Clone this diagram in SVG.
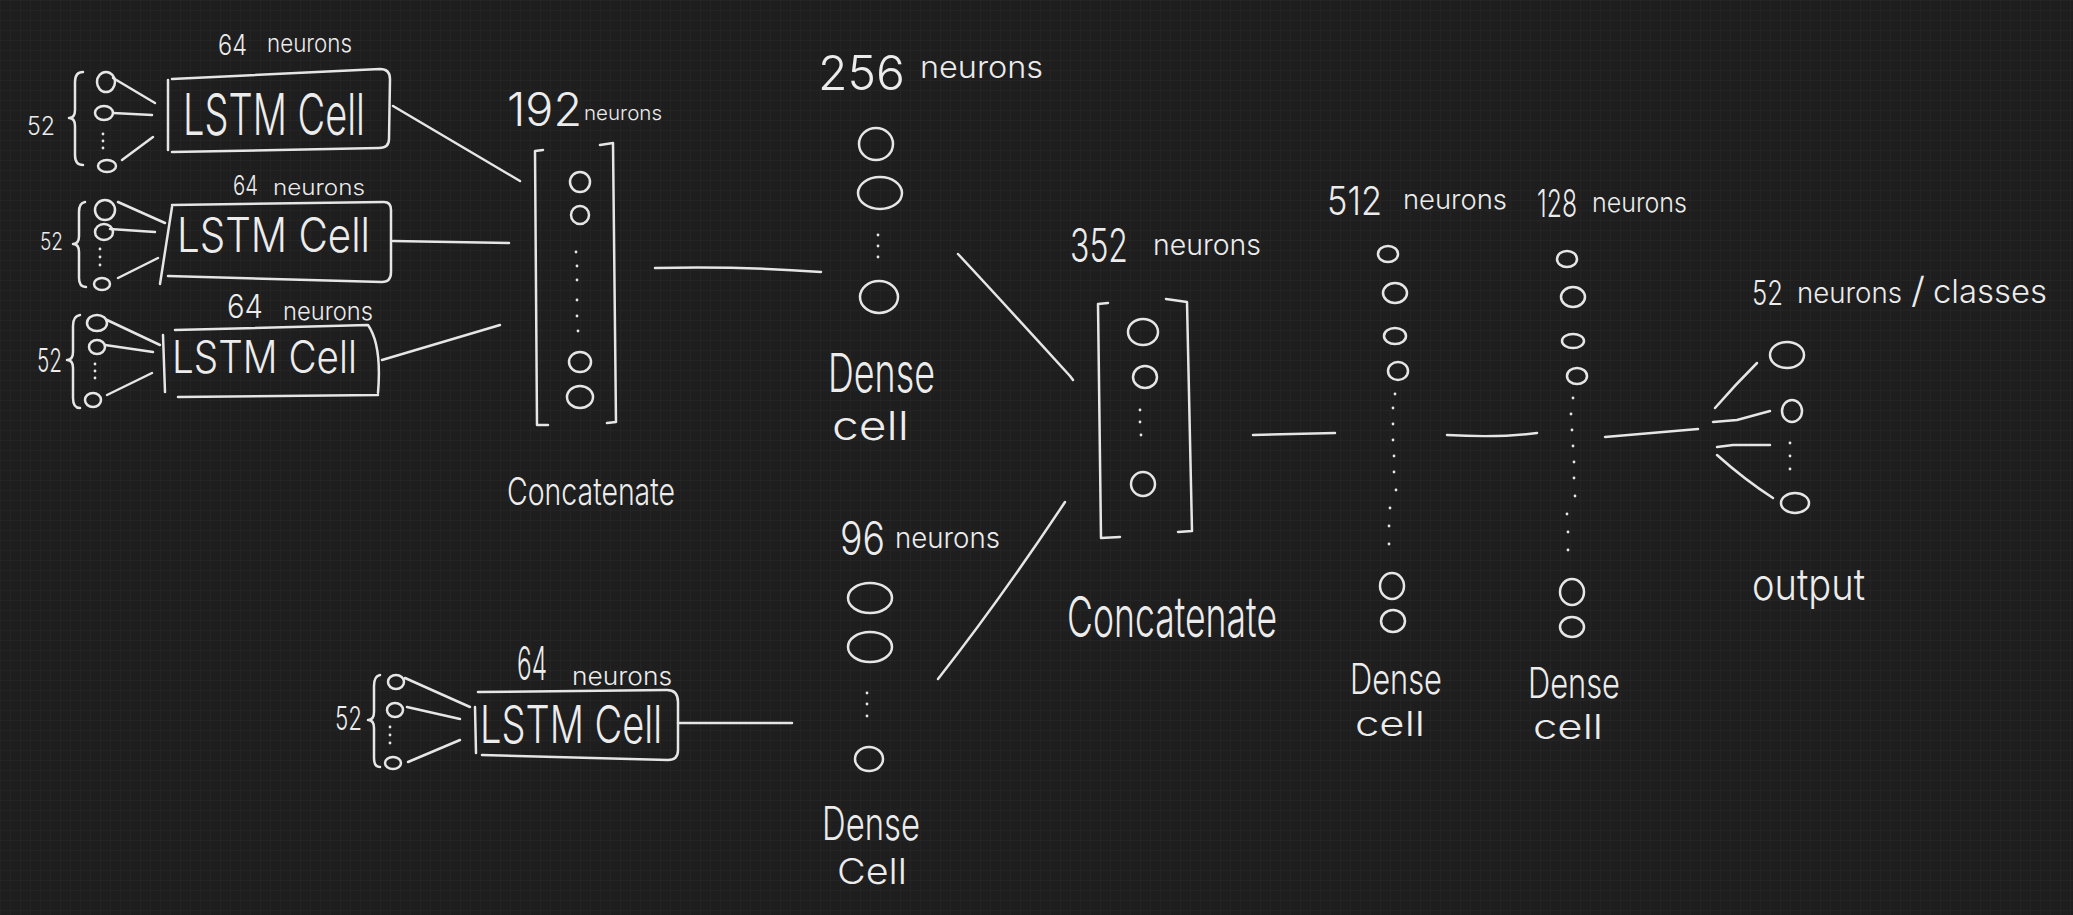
<svg xmlns="http://www.w3.org/2000/svg" width="2073" height="915" viewBox="0 0 2073 915">
<defs>
<pattern id="grid" width="10" height="10" patternUnits="userSpaceOnUse">
<rect width="10" height="10" fill="#1e1e1e"/>
<path d="M0,0.5 H10 M0.5,0 V10" stroke="#242424" stroke-width="1" fill="none"/>
</pattern>
<style>
.s{fill:none;stroke:#e6e6e6;stroke-width:2.5;stroke-linecap:round;stroke-linejoin:round}
.d{fill:#e6e6e6}
.t{fill:#ececec;font-family:"Inter","Liberation Sans",Arial,sans-serif;font-weight:300}
</style>
</defs>
<rect width="2073" height="915" fill="url(#grid)"/>

<g id="lstm1">
<text class="t"><tspan x="218" y="55" font-size="28" textLength="29" lengthAdjust="spacingAndGlyphs">64</tspan> <tspan x="267" y="52" font-size="24" textLength="85" lengthAdjust="spacingAndGlyphs">neurons</tspan></text>
<text class="t" x="27" y="135" font-size="25" textLength="28" lengthAdjust="spacingAndGlyphs">52</text>
<path class="s" d="M83,72 Q75,72 75,82 L75,110 Q75,118 69,118 Q75,118 75,126 L75,155 Q75,165 83,165"/>
<ellipse class="s" cx="106" cy="82" rx="9" ry="10"/>
<ellipse class="s" cx="104" cy="113" rx="9" ry="7"/>
<circle class="d" cx="103" cy="134" r="1.4"/><circle class="d" cx="103" cy="141" r="1.4"/><circle class="d" cx="103" cy="148" r="1.4"/>
<ellipse class="s" cx="107" cy="166" rx="9" ry="6"/>
<path class="s" d="M113,78 L155,103 M113,113 L152,115 M122,160 L153,137"/>
<path class="s" d="M168,80 L168,150 M172,79 L380,69 Q390,69 390,79 L389,139 Q389,148 379,148 L172,152"/>
<text class="t" x="183" y="135" font-size="58" textLength="182" lengthAdjust="spacingAndGlyphs">LSTM Cell</text>
</g>

<g id="lstm2">
<text class="t"><tspan x="233" y="195" font-size="27" textLength="25" lengthAdjust="spacingAndGlyphs">64</tspan> <tspan x="273" y="195" font-size="22" textLength="92" lengthAdjust="spacingAndGlyphs">neurons</tspan></text>
<text class="t" x="40" y="250" font-size="24" textLength="23" lengthAdjust="spacingAndGlyphs">52</text>
<path class="s" d="M85,202 Q79,203 79,212 L79,236 Q79,244 73,244 Q79,244 79,252 L79,278 Q79,287 86,287"/>
<ellipse class="s" cx="105" cy="210" rx="10" ry="10"/>
<ellipse class="s" cx="104" cy="232" rx="9" ry="8"/>
<circle class="d" cx="100" cy="249" r="1.4"/><circle class="d" cx="100" cy="257" r="1.4"/><circle class="d" cx="100" cy="265" r="1.4"/>
<ellipse class="s" cx="102" cy="284" rx="8" ry="6"/>
<path class="s" d="M118,202 L165,223 M110,229 L155,232 M118,278 L158,258"/>
<path class="s" d="M172,207 L160,284 M172,205 L384,202 Q391,202 391,210 L391,272 Q391,282 382,282 L168,276"/>
<text class="t" x="177" y="252" font-size="48" textLength="193" lengthAdjust="spacingAndGlyphs">LSTM Cell</text>
</g>

<g id="lstm3">
<text class="t"><tspan x="227" y="318" font-size="32" textLength="36" lengthAdjust="spacingAndGlyphs">64</tspan> <tspan x="283" y="320" font-size="24" textLength="90" lengthAdjust="spacingAndGlyphs">neurons</tspan></text>
<text class="t" x="37" y="372" font-size="32" textLength="25" lengthAdjust="spacingAndGlyphs">52</text>
<path class="s" d="M80,315 Q73,316 73,326 L73,352 Q73,360 67,360 Q73,360 73,368 L73,398 Q73,408 80,408"/>
<ellipse class="s" cx="97" cy="323" rx="10" ry="8"/>
<ellipse class="s" cx="97" cy="347" rx="8" ry="7"/>
<circle class="d" cx="95" cy="364" r="1.4"/><circle class="d" cx="95" cy="371" r="1.4"/><circle class="d" cx="95" cy="378" r="1.4"/>
<ellipse class="s" cx="93" cy="400" rx="8" ry="7"/>
<path class="s" d="M107,320 L160,345 M105,345 L153,352 M107,395 L152,373"/>
<path class="s" d="M163,335 L165,392 M175,330 L368,325 Q382,345 378,393 M178,397 L378,395"/>
<text class="t" x="172" y="373" font-size="45" textLength="185" lengthAdjust="spacingAndGlyphs">LSTM Cell</text>
</g>

<g id="lstm4">
<text class="t"><tspan x="517" y="680" font-size="46" textLength="30" lengthAdjust="spacingAndGlyphs">64</tspan> <tspan x="572" y="685" font-size="24" textLength="100" lengthAdjust="spacingAndGlyphs">neurons</tspan></text>
<text class="t" x="335" y="730" font-size="32" textLength="27" lengthAdjust="spacingAndGlyphs">52</text>
<path class="s" d="M380,675 Q374,676 374,686 L374,712 Q374,720 368,720 Q374,720 374,728 L374,758 Q374,767 380,767"/>
<ellipse class="s" cx="396" cy="682" rx="8" ry="7"/>
<ellipse class="s" cx="395" cy="710" rx="8" ry="7"/>
<circle class="d" cx="390" cy="727" r="1.4"/><circle class="d" cx="390" cy="735" r="1.4"/><circle class="d" cx="390" cy="743" r="1.4"/>
<ellipse class="s" cx="393" cy="763" rx="8" ry="6"/>
<path class="s" d="M405,678 L470,707 M407,707 L460,719 M408,762 L460,740"/>
<path class="s" d="M475,707 L476,753 M478,692 L667,690 Q678,690 678,702 L678,750 Q678,760 668,760 L482,755"/>
<text class="t" x="480" y="743" font-size="52" textLength="182" lengthAdjust="spacingAndGlyphs">LSTM Cell</text>
</g>

<g id="concat1">
<text class="t"><tspan x="507" y="126" font-size="46" textLength="75" lengthAdjust="spacingAndGlyphs">192</tspan> <tspan x="584" y="120" font-size="20" textLength="78" lengthAdjust="spacingAndGlyphs">neurons</tspan></text>
<path class="s" d="M543,150 L535,151 L537,425 L548,425"/>
<path class="s" d="M600,145 L613,143 L616,422 L607,423"/>
<ellipse class="s" cx="580" cy="182" rx="10" ry="10"/>
<ellipse class="s" cx="580" cy="215" rx="9" ry="9"/>
<circle class="d" cx="576" cy="252" r="1.4"/><circle class="d" cx="577" cy="266" r="1.4"/><circle class="d" cx="577" cy="280" r="1.4"/><circle class="d" cx="577" cy="300" r="1.4"/><circle class="d" cx="577" cy="316" r="1.4"/><circle class="d" cx="578" cy="331" r="1.4"/>
<ellipse class="s" cx="580" cy="362" rx="11" ry="10"/>
<ellipse class="s" cx="580" cy="397" rx="13" ry="11"/>
<text class="t" x="507" y="505" font-size="38" textLength="168" lengthAdjust="spacingAndGlyphs">Concatenate</text>
</g>

<g id="dense256">
<text class="t"><tspan x="818" y="90" font-size="48" textLength="87" lengthAdjust="spacingAndGlyphs">256</tspan> <tspan x="920" y="78" font-size="30" textLength="123" lengthAdjust="spacingAndGlyphs">neurons</tspan></text>
<ellipse class="s" cx="876" cy="144" rx="17" ry="16"/>
<ellipse class="s" cx="880" cy="193" rx="22" ry="16"/>
<circle class="d" cx="878" cy="235" r="1.4"/><circle class="d" cx="878" cy="246" r="1.4"/><circle class="d" cx="878" cy="257" r="1.4"/>
<ellipse class="s" cx="879" cy="297" rx="19" ry="16"/>
<text class="t" x="828" y="392" font-size="54" textLength="107" lengthAdjust="spacingAndGlyphs">Dense</text>
<text class="t" x="832" y="440" font-size="40" textLength="77" lengthAdjust="spacingAndGlyphs">cell</text>
</g>

<g id="dense96">
<text class="t"><tspan x="840" y="555" font-size="46" textLength="45" lengthAdjust="spacingAndGlyphs">96</tspan> <tspan x="895" y="548" font-size="28" textLength="105" lengthAdjust="spacingAndGlyphs">neurons</tspan></text>
<ellipse class="s" cx="870" cy="598" rx="22" ry="15"/>
<ellipse class="s" cx="870" cy="647" rx="22" ry="15"/>
<circle class="d" cx="867" cy="693" r="1.4"/><circle class="d" cx="867" cy="704" r="1.4"/><circle class="d" cx="867" cy="716" r="1.4"/>
<ellipse class="s" cx="869" cy="759" rx="14" ry="12"/>
<text class="t" x="822" y="840" font-size="46" textLength="98" lengthAdjust="spacingAndGlyphs">Dense</text>
<text class="t" x="837" y="884" font-size="36" textLength="70" lengthAdjust="spacingAndGlyphs">Cell</text>
</g>

<g id="concat2">
<text class="t"><tspan x="1070" y="262" font-size="46" textLength="58" lengthAdjust="spacingAndGlyphs">352</tspan> <tspan x="1153" y="255" font-size="28" textLength="108" lengthAdjust="spacingAndGlyphs">neurons</tspan></text>
<path class="s" d="M1108,303 L1098,304 L1101,538 L1120,537"/>
<path class="s" d="M1166,299 L1187,302 L1192,531 L1178,532"/>
<ellipse class="s" cx="1143" cy="332" rx="15" ry="13"/>
<ellipse class="s" cx="1145" cy="377" rx="12" ry="11"/>
<circle class="d" cx="1140" cy="410" r="1.4"/><circle class="d" cx="1140" cy="422" r="1.4"/><circle class="d" cx="1141" cy="435" r="1.4"/>
<ellipse class="s" cx="1143" cy="484" rx="12" ry="12"/>
<text class="t" x="1067" y="637" font-size="56" textLength="210" lengthAdjust="spacingAndGlyphs">Concatenate</text>
</g>

<g id="dense512">
<text class="t"><tspan x="1327" y="215" font-size="40" textLength="55" lengthAdjust="spacingAndGlyphs">512</tspan> <tspan x="1403" y="209" font-size="27" textLength="104" lengthAdjust="spacingAndGlyphs">neurons</tspan></text>
<ellipse class="s" cx="1388" cy="254" rx="10" ry="8"/>
<ellipse class="s" cx="1395" cy="293" rx="12" ry="10"/>
<ellipse class="s" cx="1395" cy="336" rx="11" ry="8"/>
<ellipse class="s" cx="1398" cy="371" rx="10" ry="9"/>
<circle class="d" cx="1395" cy="394" r="1.4"/><circle class="d" cx="1393" cy="408" r="1.4"/><circle class="d" cx="1393" cy="424" r="1.4"/><circle class="d" cx="1393" cy="440" r="1.4"/><circle class="d" cx="1394" cy="456" r="1.4"/><circle class="d" cx="1394" cy="472" r="1.4"/><circle class="d" cx="1396" cy="490" r="1.4"/><circle class="d" cx="1390" cy="508" r="1.4"/><circle class="d" cx="1389" cy="526" r="1.4"/><circle class="d" cx="1389" cy="544" r="1.4"/>
<ellipse class="s" cx="1392" cy="586" rx="12" ry="13"/>
<ellipse class="s" cx="1393" cy="621" rx="12" ry="11"/>
<text class="t" x="1350" y="694" font-size="42" textLength="92" lengthAdjust="spacingAndGlyphs">Dense</text>
<text class="t" x="1355" y="736" font-size="34" textLength="70" lengthAdjust="spacingAndGlyphs">cell</text>
</g>

<g id="dense128">
<text class="t"><tspan x="1537" y="217" font-size="38" textLength="40" lengthAdjust="spacingAndGlyphs">128</tspan><tspan x="1592" y="212" font-size="27" textLength="95" lengthAdjust="spacingAndGlyphs">neurons</tspan></text>
<ellipse class="s" cx="1567" cy="259" rx="10" ry="8"/>
<ellipse class="s" cx="1573" cy="297" rx="12" ry="10"/>
<ellipse class="s" cx="1573" cy="341" rx="11" ry="7"/>
<ellipse class="s" cx="1577" cy="376" rx="10" ry="8"/>
<circle class="d" cx="1573" cy="398" r="1.4"/><circle class="d" cx="1571" cy="414" r="1.4"/><circle class="d" cx="1572" cy="430" r="1.4"/><circle class="d" cx="1573" cy="446" r="1.4"/><circle class="d" cx="1574" cy="462" r="1.4"/><circle class="d" cx="1574" cy="478" r="1.4"/><circle class="d" cx="1575" cy="496" r="1.4"/><circle class="d" cx="1567" cy="514" r="1.4"/><circle class="d" cx="1568" cy="532" r="1.4"/><circle class="d" cx="1568" cy="550" r="1.4"/>
<ellipse class="s" cx="1572" cy="592" rx="12" ry="13"/>
<ellipse class="s" cx="1572" cy="627" rx="12" ry="10"/>
<text class="t" x="1528" y="698" font-size="42" textLength="92" lengthAdjust="spacingAndGlyphs">Dense</text>
<text class="t" x="1533" y="739" font-size="34" textLength="70" lengthAdjust="spacingAndGlyphs">cell</text>
</g>

<g id="output">
<text class="t"><tspan x="1752" y="305" font-size="34" textLength="31" lengthAdjust="spacingAndGlyphs">52</tspan> <tspan x="1797" y="303" font-size="28" textLength="105" lengthAdjust="spacingAndGlyphs">neurons</tspan><tspan x="1911" y="303" font-size="36" textLength="14" lengthAdjust="spacingAndGlyphs">/</tspan><tspan x="1933" y="303" font-size="32" textLength="114" lengthAdjust="spacingAndGlyphs">classes</tspan></text>
<ellipse class="s" cx="1787" cy="355" rx="17" ry="13"/>
<ellipse class="s" cx="1792" cy="411" rx="10" ry="11"/>
<circle class="d" cx="1790" cy="443" r="1.4"/><circle class="d" cx="1790" cy="456" r="1.4"/><circle class="d" cx="1790" cy="469" r="1.4"/>
<ellipse class="s" cx="1795" cy="503" rx="14" ry="10"/>
<text class="t" x="1752" y="600" font-size="44" textLength="113" lengthAdjust="spacingAndGlyphs">output</text>
</g>

<g id="connectors">
<path class="s" d="M393,106 L520,181"/>
<path class="s" d="M393,241 L509,243"/>
<path class="s" d="M382,360 L500,325"/>
<path class="s" d="M655,268 Q740,266 821,272"/>
<path class="s" d="M958,254 Q1010,310 1070,376 L1073,380"/>
<path class="s" d="M938,679 Q1000,600 1065,502"/>
<path class="s" d="M678,723 L792,723"/>
<path class="s" d="M1253,435 L1335,433"/>
<path class="s" d="M1447,435 Q1500,438 1537,433"/>
<path class="s" d="M1605,437 L1698,429"/>
<path class="s" d="M1715,408 Q1735,385 1757,363"/>
<path class="s" d="M1713,422 L1737,420 L1770,411"/>
<path class="s" d="M1717,447 L1733,445 L1770,445"/>
<path class="s" d="M1717,455 Q1745,480 1773,498"/>
</g>
</svg>
